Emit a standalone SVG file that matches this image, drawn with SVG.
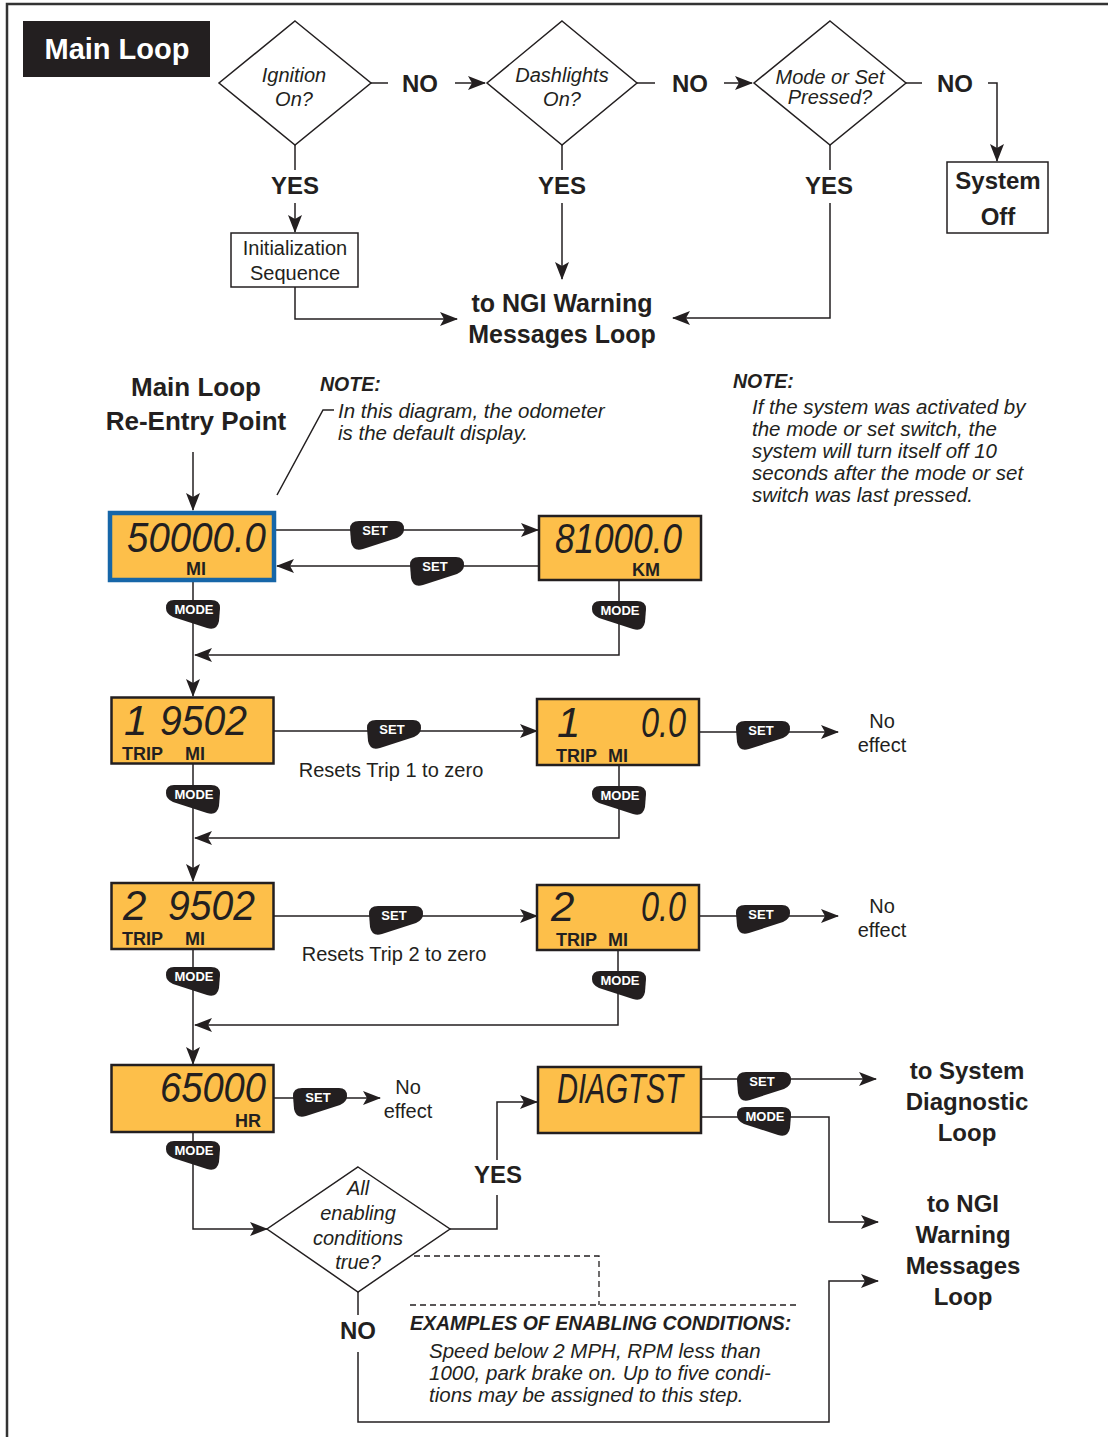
<svg xmlns="http://www.w3.org/2000/svg" xmlns:xlink="http://www.w3.org/1999/xlink" width="1108" height="1437" viewBox="0 0 1108 1437">
<style>
.ln{fill:none;stroke:#231f20;stroke-width:1.5}
.arr{marker-end:url(#ah)}
.dash{fill:none;stroke:#231f20;stroke-width:1.3;stroke-dasharray:6 4}
.box{fill:#fff;stroke:#231f20;stroke-width:1.5}
.lbl{font-family:"Liberation Sans",Arial,sans-serif;font-weight:bold;font-size:24px;fill:#231f20;text-anchor:middle}
.big{font-family:"Liberation Sans",Arial,sans-serif;font-weight:bold;font-size:25px;fill:#231f20;text-anchor:middle}
.it{font-family:"Liberation Sans",Arial,sans-serif;font-style:italic;font-size:20.5px;fill:#231f20}
.itc{font-family:"Liberation Sans",Arial,sans-serif;font-style:italic;font-size:20px;fill:#231f20;text-anchor:middle}
.bi{font-family:"Liberation Sans",Arial,sans-serif;font-style:italic;font-weight:bold;font-size:19.5px;fill:#231f20}
.reg{font-family:"Liberation Sans",Arial,sans-serif;font-size:20px;fill:#231f20;text-anchor:middle}
.lcd{fill:#FDBF4A;stroke:#231f20;stroke-width:2.5}
.lcdt{font-family:"Liberation Sans",Arial,sans-serif;font-style:italic;font-size:42px;fill:#231f20}
.unit{font-family:"Liberation Sans",Arial,sans-serif;font-weight:bold;font-size:18px;fill:#231f20}
.btn{fill:#231f20}
.btnt{font-family:"Liberation Sans",Arial,sans-serif;font-weight:bold;font-size:13px;fill:#fff;text-anchor:middle}
</style>
<defs>
<marker id="ah" markerWidth="18" markerHeight="14" refX="17" refY="7" orient="auto" markerUnits="userSpaceOnUse">
<path d="M0,0 L18,7 L0,14 L4,7 Z" fill="#231f20"/>
</marker>
<path id="bSet" d="M9,0 H46 Q54,0 54,8 Q54,14 47,17 L13,28 Q3,31 1,21 L0,8 Q0,0 9,0 Z"/>
<path id="bMode" d="M8,0 H45 Q54,0 54,8 L53,21 Q51,31 41,28 L7,17 Q0,14 0,8 Q0,0 8,0 Z"/>
</defs>

<g id="frame">
<path d="M7,1437 V4 H1108" fill="none" stroke="#333" stroke-width="2.5"/>
</g>

<g id="title">
<rect x="23" y="21" width="187" height="56" fill="#231f20"/>
<text x="117" y="59" style="font-family:'Liberation Sans',Arial,sans-serif;font-weight:bold;font-size:29px;fill:#fff;text-anchor:middle">Main Loop</text>
</g>

<g id="connectors">
<path class="ln" d="M371,83 H388"/>
<path class="ln arr" d="M455,83 H485"/>
<path class="ln" d="M637,83 H655"/>
<path class="ln arr" d="M724,83 H752"/>
<path class="ln" d="M906,83 H922"/>
<path class="ln arr" d="M988,83 H997 V161"/>
<path class="ln" d="M295,145 V170"/>
<path class="ln arr" d="M295,203 V232"/>
<path class="ln arr" d="M295,287 V319 H457"/>
<path class="ln" d="M562,145 V170"/>
<path class="ln arr" d="M562,203 V279"/>
<path class="ln" d="M830,145 V170"/>
<path class="ln arr" d="M830,203 V318 H673"/>
<path class="ln" d="M277,495 L323,410 H334" stroke-width="1.2"/>
<path class="ln arr" d="M193,452 V510"/>
<path class="ln arr" d="M276,530 H538"/>
<path class="ln arr" d="M539,566 H277"/>
<path class="ln arr" d="M193,582 V696"/>
<path class="ln arr" d="M619,581 V655 H195"/>
<path class="ln arr" d="M273,731 H537"/>
<path class="ln arr" d="M699,732 H838"/>
<path class="ln arr" d="M193,764 V881"/>
<path class="ln arr" d="M619,766 V838 H195"/>
<path class="ln arr" d="M273,916 H537"/>
<path class="ln arr" d="M699,916 H838"/>
<path class="ln arr" d="M193,949 V1064"/>
<path class="ln arr" d="M618,950 V1025 H195"/>
<path class="ln arr" d="M273,1098 H380"/>
<path class="ln arr" d="M193,1132 V1229 H267"/>
<path class="ln" d="M450,1229 H497 V1195"/>
<path class="ln arr" d="M497,1160 V1102 H537"/>
<path class="ln arr" d="M701,1079 H876"/>
<path class="ln arr" d="M701,1117 H829 V1222 H878"/>
<path class="ln" d="M358,1292 V1315"/>
<path class="ln arr" d="M358,1352 V1422 H829 V1281 H878"/>
<path class="dash" d="M414,1256 H599 V1305"/>
<path class="dash" d="M410,1305 H796"/>
</g>

<g id="edge-labels">
<text class="lbl" x="420" y="92">NO</text>
<text class="lbl" x="690" y="92">NO</text>
<text class="lbl" x="955" y="92">NO</text>
<text class="lbl" x="295" y="194">YES</text>
<text class="lbl" x="562" y="194">YES</text>
<text class="lbl" x="829" y="194">YES</text>
<text class="lbl" x="498" y="1183">YES</text>
<text class="lbl" x="358" y="1339">NO</text>
<text class="reg" x="391" y="777">Resets Trip 1 to zero</text>
<text class="reg" x="394" y="961">Resets Trip 2 to zero</text>
<text class="reg" x="882" y="728">No</text>
<text class="reg" x="882" y="752">effect</text>
<text class="reg" x="882" y="913">No</text>
<text class="reg" x="882" y="937">effect</text>
<text class="reg" x="408" y="1094">No</text>
<text class="reg" x="408" y="1118">effect</text>
</g>

<g id="d-ignition">
<path class="box" d="M295,21 L371,83 L295,145 L219,83 Z"/>
<text class="itc" x="294" y="82">Ignition</text>
<text class="itc" x="294" y="106">On?</text>
</g>
<g id="d-dash">
<path class="box" d="M562,21 L637,83 L562,145 L487,83 Z"/>
<text class="itc" x="562" y="82">Dashlights</text>
<text class="itc" x="562" y="106">On?</text>
</g>
<g id="d-mode">
<path class="box" d="M830,21 L906,83 L830,145 L754,83 Z"/>
<text class="itc" x="830" y="84" style="font-size:20px">Mode or Set</text>
<text class="itc" x="830" y="104" style="font-size:20px">Pressed?</text>
</g>
<g id="system-off">
<rect class="box" x="947" y="162" width="101" height="71"/>
<text class="lbl" x="998" y="189">System</text>
<text class="lbl" x="998" y="225">Off</text>
</g>
<g id="init">
<rect class="box" x="231" y="233" width="127" height="54"/>
<text class="reg" x="295" y="255">Initialization</text>
<text class="reg" x="295" y="280">Sequence</text>
</g>
<g id="ngi-top">
<text class="big" x="562" y="312">to NGI Warning</text>
<text class="big" x="562" y="343">Messages Loop</text>
</g>

<g id="reentry">
<text class="lbl" x="196" y="396" style="font-size:26px">Main Loop</text>
<text class="lbl" x="196" y="430" style="font-size:26px">Re-Entry Point</text>
</g>
<g id="note1">
<text class="bi" x="320" y="391">NOTE:</text>
<text class="it" x="338" y="418">In this diagram, the odometer</text>
<text class="it" x="338" y="440">is the default display.</text>
</g>
<g id="note2">
<text class="bi" x="733" y="388">NOTE:</text>
<text class="it" x="752" y="414">If the system was activated by</text>
<text class="it" x="752" y="436">the mode or set switch, the</text>
<text class="it" x="752" y="458">system will turn itself off 10</text>
<text class="it" x="752" y="480">seconds after the mode or set</text>
<text class="it" x="752" y="502">switch was last pressed.</text>
</g>

<g id="lcd-odo-mi">
<rect x="110" y="513" width="164" height="67" fill="#FDBF4A" stroke="#1666a8" stroke-width="4.5"/>
<text class="lcdt" x="127" y="552" textLength="139" lengthAdjust="spacingAndGlyphs">50000.0</text>
<text class="unit" x="196" y="575" text-anchor="middle">MI</text>
</g>
<g id="lcd-odo-km">
<rect class="lcd" x="539" y="516" width="162" height="64"/>
<text class="lcdt" x="555" y="553" textLength="127" lengthAdjust="spacingAndGlyphs">81000.0</text>
<text class="unit" x="646" y="576" text-anchor="middle">KM</text>
</g>
<g id="lcd-trip1">
<rect class="lcd" x="111.5" y="697.5" width="162" height="66"/>
<text class="lcdt" y="735"><tspan x="124">1</tspan><tspan x="160" textLength="87" lengthAdjust="spacingAndGlyphs">9502</tspan></text>
<text class="unit" x="122" y="760">TRIP</text>
<text class="unit" x="185" y="760">MI</text>
</g>
<g id="lcd-trip1-zero">
<rect class="lcd" x="537" y="699" width="162" height="66"/>
<text class="lcdt" y="737"><tspan x="557">1</tspan><tspan x="641" textLength="45" lengthAdjust="spacingAndGlyphs">0.0</tspan></text>
<text class="unit" x="556" y="762">TRIP</text>
<text class="unit" x="608" y="762">MI</text>
</g>
<g id="lcd-trip2">
<rect class="lcd" x="111.5" y="883" width="162" height="66"/>
<text class="lcdt" y="920"><tspan x="123">2</tspan><tspan x="168" textLength="87" lengthAdjust="spacingAndGlyphs">9502</tspan></text>
<text class="unit" x="122" y="945">TRIP</text>
<text class="unit" x="185" y="945">MI</text>
</g>
<g id="lcd-trip2-zero">
<rect class="lcd" x="537" y="885" width="162" height="65"/>
<text class="lcdt" y="921"><tspan x="551">2</tspan><tspan x="641" textLength="45" lengthAdjust="spacingAndGlyphs">0.0</tspan></text>
<text class="unit" x="556" y="946">TRIP</text>
<text class="unit" x="608" y="946">MI</text>
</g>
<g id="lcd-hours">
<rect class="lcd" x="111.5" y="1065" width="162" height="67"/>
<text class="lcdt" x="160" y="1102" textLength="106" lengthAdjust="spacingAndGlyphs">65000</text>
<text class="unit" x="235" y="1127">HR</text>
</g>
<g id="lcd-diag">
<rect class="lcd" x="538" y="1067" width="163" height="66"/>
<text class="lcdt" x="557" y="1103" textLength="126" lengthAdjust="spacingAndGlyphs">DIAGTST</text>
</g>

<g id="d-enabling">
<path class="box" d="M358,1167 L450,1229 L358,1292 L267,1229 Z"/>
<text class="itc" x="358" y="1195">All</text>
<text class="itc" x="358" y="1220">enabling</text>
<text class="itc" x="358" y="1245">conditions</text>
<text class="itc" x="358" y="1269">true?</text>
</g>
<g id="examples">
<text class="bi" x="410" y="1330">EXAMPLES OF ENABLING CONDITIONS:</text>
<text class="it" x="429" y="1358">Speed below 2 MPH, RPM less than</text>
<text class="it" x="429" y="1380">1000, park brake on. Up to five condi-</text>
<text class="it" x="429" y="1402">tions may be assigned to this step.</text>
</g>
<g id="to-diag">
<text class="lbl" x="967" y="1079">to System</text>
<text class="lbl" x="967" y="1110">Diagnostic</text>
<text class="lbl" x="967" y="1141">Loop</text>
</g>
<g id="to-ngi">
<text class="lbl" x="963" y="1212">to NGI</text>
<text class="lbl" x="963" y="1243">Warning</text>
<text class="lbl" x="963" y="1274">Messages</text>
<text class="lbl" x="963" y="1305">Loop</text>
</g>

<g id="buttons">
<g transform="translate(350,521)"><use href="#bSet" class="btn"/><text class="btnt" x="25" y="14">SET</text></g>
<g transform="translate(410,557)"><use href="#bSet" class="btn"/><text class="btnt" x="25" y="14">SET</text></g>
<g transform="translate(166,600)"><use href="#bMode" class="btn"/><text class="btnt" x="28" y="14">MODE</text></g>
<g transform="translate(592,601)"><use href="#bMode" class="btn"/><text class="btnt" x="28" y="14">MODE</text></g>
<g transform="translate(367,720)"><use href="#bSet" class="btn"/><text class="btnt" x="25" y="14">SET</text></g>
<g transform="translate(736,721)"><use href="#bSet" class="btn"/><text class="btnt" x="25" y="14">SET</text></g>
<g transform="translate(166,785)"><use href="#bMode" class="btn"/><text class="btnt" x="28" y="14">MODE</text></g>
<g transform="translate(592,786)"><use href="#bMode" class="btn"/><text class="btnt" x="28" y="14">MODE</text></g>
<g transform="translate(369,906)"><use href="#bSet" class="btn"/><text class="btnt" x="25" y="14">SET</text></g>
<g transform="translate(736,905)"><use href="#bSet" class="btn"/><text class="btnt" x="25" y="14">SET</text></g>
<g transform="translate(166,967)"><use href="#bMode" class="btn"/><text class="btnt" x="28" y="14">MODE</text></g>
<g transform="translate(592,971)"><use href="#bMode" class="btn"/><text class="btnt" x="28" y="14">MODE</text></g>
<g transform="translate(293,1088)"><use href="#bSet" class="btn"/><text class="btnt" x="25" y="14">SET</text></g>
<g transform="translate(166,1141)"><use href="#bMode" class="btn"/><text class="btnt" x="28" y="14">MODE</text></g>
<g transform="translate(737,1072)"><use href="#bSet" class="btn"/><text class="btnt" x="25" y="14">SET</text></g>
<g transform="translate(737,1107)"><use href="#bMode" class="btn"/><text class="btnt" x="28" y="14">MODE</text></g>
</g>
</svg>
